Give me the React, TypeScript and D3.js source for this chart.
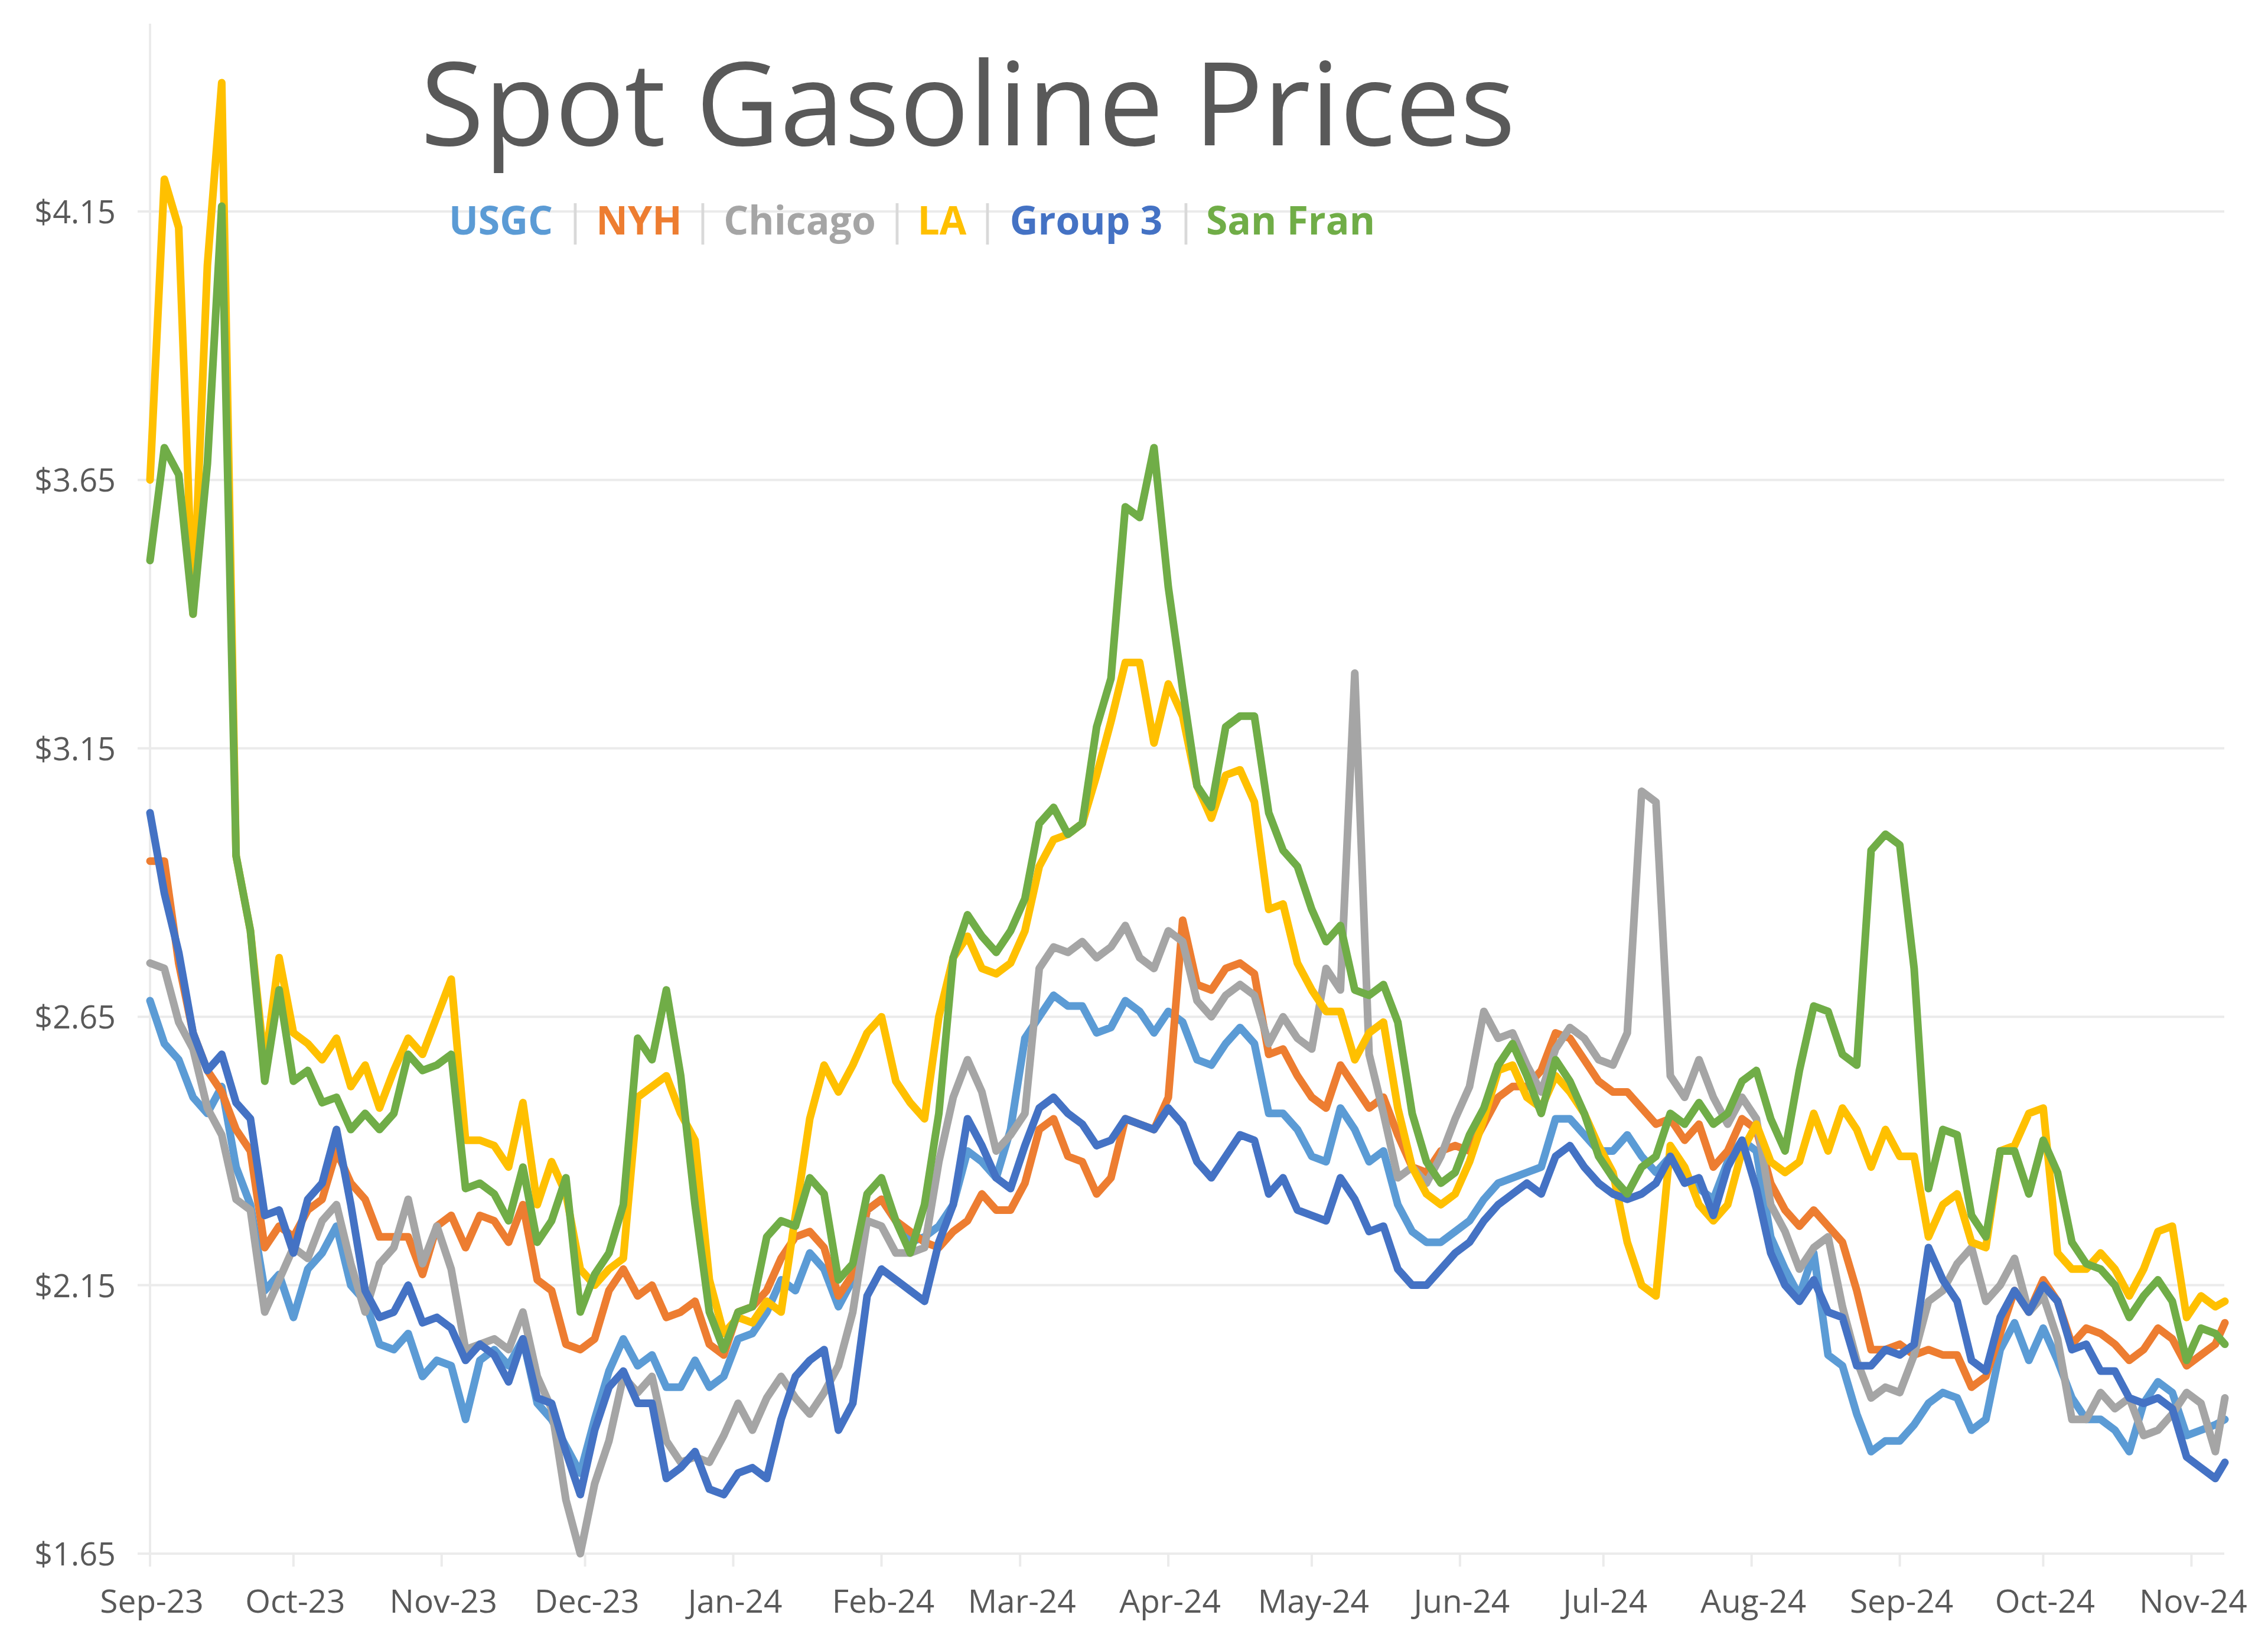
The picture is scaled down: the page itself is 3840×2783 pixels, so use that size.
import React from 'react';
import * as d3 from 'd3';

// Days after 1 Sep 2023 at which the values below were read
const dayOffsets = [
  0, 3, 6, 9, 12, 15, 18, 21, 24, 27,
  30, 33, 36, 39, 42, 45, 48, 51, 54, 57,
  60, 63, 66, 69, 72, 75, 78, 81, 84, 87,
  90, 93, 96, 99, 102, 105, 108, 111, 114, 117,
  120, 123, 126, 129, 132, 135, 138, 141, 144, 147,
  150, 153, 156, 159, 162, 165, 168, 171, 174, 177,
  180, 183, 186, 189, 192, 195, 198, 201, 204, 207,
  210, 213, 216, 219, 222, 225, 228, 231, 234, 237,
  240, 243, 246, 249, 252, 255, 258, 261, 264, 267,
  270, 273, 276, 279, 282, 285, 288, 291, 294, 297,
  300, 303, 306, 309, 312, 315, 318, 321, 324, 327,
  330, 333, 336, 339, 342, 345, 348, 351, 354, 357,
  360, 363, 366, 369, 372, 375, 378, 381, 384, 387,
  390, 393, 396, 399, 402, 405, 408, 411, 414, 417,
  420, 423, 426, 429, 432, 434,
];

const usgc = [
  2.68, 2.60, 2.57, 2.50, 2.47, 2.52, 2.37, 2.30, 2.14, 2.17,
  2.09, 2.18, 2.21, 2.26, 2.15, 2.12, 2.04, 2.03, 2.06, 1.98,
  2.01, 2.00, 1.90, 2.01, 2.03, 2.00, 2.05, 1.93, 1.90, 1.85,
  1.80, 1.90, 1.99, 2.05, 2.00, 2.02, 1.96, 1.96, 2.01, 1.96,
  1.98, 2.05, 2.06, 2.10, 2.16, 2.14, 2.21, 2.18, 2.11, 2.16,
  2.29, 2.31, 2.27, 2.23, 2.24, 2.26, 2.30, 2.40, 2.38, 2.35,
  2.44, 2.61, 2.65, 2.69, 2.67, 2.67, 2.62, 2.63, 2.68, 2.66,
  2.62, 2.66, 2.64, 2.57, 2.56, 2.60, 2.63, 2.60, 2.47, 2.47,
  2.44, 2.39, 2.38, 2.48, 2.44, 2.38, 2.40, 2.30, 2.25, 2.23,
  2.23, 2.25, 2.27, 2.31, 2.34, 2.35, 2.36, 2.37, 2.46, 2.46,
  2.43, 2.40, 2.40, 2.43, 2.39, 2.36, 2.39, 2.35, 2.33, 2.31,
  2.38, 2.42, 2.40, 2.24, 2.18, 2.13, 2.21, 2.02, 2.00, 1.91,
  1.84, 1.86, 1.86, 1.89, 1.93, 1.95, 1.94, 1.88, 1.90, 2.03,
  2.08, 2.01, 2.07, 2.01, 1.94, 1.90, 1.90, 1.88, 1.84, 1.93,
  1.97, 1.95, 1.87, 1.88, 1.89, 1.90,
];

const nyh = [
  2.94, 2.94, 2.75, 2.62, 2.55, 2.51, 2.44, 2.40, 2.22, 2.26,
  2.24, 2.29, 2.31, 2.40, 2.34, 2.31, 2.24, 2.24, 2.24, 2.17,
  2.26, 2.28, 2.22, 2.28, 2.27, 2.23, 2.30, 2.16, 2.14, 2.04,
  2.03, 2.05, 2.14, 2.18, 2.13, 2.15, 2.09, 2.10, 2.12, 2.04,
  2.02, 2.10, 2.11, 2.14, 2.20, 2.24, 2.25, 2.22, 2.13, 2.17,
  2.29, 2.31, 2.27, 2.25, 2.23, 2.22, 2.25, 2.27, 2.32, 2.29,
  2.29, 2.34, 2.44, 2.46, 2.39, 2.38, 2.32, 2.35, 2.46, 2.45,
  2.44, 2.50, 2.83, 2.71, 2.70, 2.74, 2.75, 2.73, 2.58, 2.59,
  2.54, 2.50, 2.48, 2.56, 2.52, 2.48, 2.50, 2.43, 2.37, 2.36,
  2.40, 2.41, 2.40, 2.45, 2.50, 2.52, 2.52, 2.55, 2.62, 2.61,
  2.57, 2.53, 2.51, 2.51, 2.48, 2.45, 2.46, 2.42, 2.45, 2.37,
  2.40, 2.46, 2.44, 2.34, 2.29, 2.26, 2.29, 2.26, 2.23, 2.14,
  2.03, 2.03, 2.04, 2.02, 2.03, 2.02, 2.02, 1.96, 1.98, 2.06,
  2.14, 2.10, 2.16, 2.12, 2.04, 2.07, 2.06, 2.04, 2.01, 2.03,
  2.07, 2.05, 2.00, 2.02, 2.04, 2.08,
];

const chicago = [
  2.75, 2.74, 2.64, 2.59, 2.48, 2.43, 2.31, 2.29, 2.10, 2.16,
  2.22, 2.20, 2.27, 2.30, 2.19, 2.10, 2.19, 2.22, 2.31, 2.19,
  2.26, 2.18, 2.03, 2.04, 2.05, 2.03, 2.10, 1.98, 1.92, 1.75,
  1.65, 1.78, 1.86, 1.98, 1.95, 1.98, 1.86, 1.82, 1.83, 1.82,
  1.87, 1.93, 1.88, 1.94, 1.98, 1.94, 1.91, 1.95, 2.00, 2.10,
  2.27, 2.26, 2.21, 2.21, 2.22, 2.38, 2.50, 2.57, 2.51, 2.40,
  2.43, 2.47, 2.74, 2.78, 2.77, 2.79, 2.76, 2.78, 2.82, 2.76,
  2.74, 2.81, 2.79, 2.68, 2.65, 2.69, 2.71, 2.69, 2.60, 2.65,
  2.61, 2.59, 2.74, 2.70, 3.29, 2.58, 2.47, 2.35, 2.37, 2.34,
  2.39, 2.46, 2.52, 2.66, 2.61, 2.62, 2.56, 2.51, 2.59, 2.63,
  2.61, 2.57, 2.56, 2.62, 3.07, 3.05, 2.54, 2.50, 2.57, 2.50,
  2.45, 2.50, 2.46, 2.30, 2.25, 2.18, 2.22, 2.24, 2.11, 2.01,
  1.94, 1.96, 1.95, 2.02, 2.12, 2.14, 2.19, 2.22, 2.12, 2.15,
  2.20, 2.10, 2.13, 2.05, 1.90, 1.90, 1.95, 1.92, 1.94, 1.87,
  1.88, 1.91, 1.95, 1.93, 1.84, 1.94,
];

const la = [
  3.65, 4.21, 4.12, 3.40, 4.05, 4.39, 2.95, 2.81, 2.56, 2.76,
  2.62, 2.60, 2.57, 2.61, 2.52, 2.56, 2.48, 2.55, 2.61, 2.58,
  2.65, 2.72, 2.42, 2.42, 2.41, 2.37, 2.49, 2.30, 2.38, 2.32,
  2.18, 2.15, 2.18, 2.20, 2.50, 2.52, 2.54, 2.47, 2.42, 2.16,
  2.06, 2.09, 2.08, 2.12, 2.10, 2.28, 2.46, 2.56, 2.51, 2.56,
  2.62, 2.65, 2.53, 2.49, 2.46, 2.65, 2.76, 2.80, 2.74, 2.73,
  2.75, 2.81, 2.93, 2.98, 2.99, 3.01, 3.10, 3.20, 3.31, 3.31,
  3.16, 3.27, 3.21, 3.08, 3.02, 3.10, 3.11, 3.05, 2.85, 2.86,
  2.75, 2.70, 2.66, 2.66, 2.57, 2.62, 2.64, 2.48, 2.37, 2.32,
  2.30, 2.32, 2.38, 2.46, 2.55, 2.56, 2.50, 2.48, 2.54, 2.51,
  2.47, 2.41, 2.36, 2.23, 2.15, 2.13, 2.41, 2.37, 2.30, 2.27,
  2.30, 2.40, 2.45, 2.38, 2.36, 2.38, 2.47, 2.40, 2.48, 2.44,
  2.37, 2.44, 2.39, 2.39, 2.24, 2.30, 2.32, 2.23, 2.22, 2.40,
  2.41, 2.47, 2.48, 2.21, 2.18, 2.18, 2.21, 2.18, 2.13, 2.18,
  2.25, 2.26, 2.09, 2.13, 2.11, 2.12,
];

const group3 = [
  3.03, 2.88, 2.77, 2.62, 2.55, 2.58, 2.49, 2.46, 2.28, 2.29,
  2.21, 2.31, 2.34, 2.44, 2.30, 2.14, 2.09, 2.10, 2.15, 2.08,
  2.09, 2.07, 2.01, 2.04, 2.02, 1.97, 2.05, 1.94, 1.93, 1.84,
  1.76, 1.88, 1.96, 1.99, 1.93, 1.93, 1.79, 1.81, 1.84, 1.77,
  1.76, 1.80, 1.81, 1.79, 1.90, 1.98, 2.01, 2.03, 1.88, 1.93,
  2.13, 2.18, 2.16, 2.14, 2.12, 2.23, 2.30, 2.46, 2.41, 2.35,
  2.33, 2.41, 2.48, 2.50, 2.47, 2.45, 2.41, 2.42, 2.46, 2.45,
  2.44, 2.48, 2.45, 2.38, 2.35, 2.39, 2.43, 2.42, 2.32, 2.35,
  2.29, 2.28, 2.27, 2.35, 2.31, 2.25, 2.26, 2.18, 2.15, 2.15,
  2.18, 2.21, 2.23, 2.27, 2.30, 2.32, 2.34, 2.32, 2.39, 2.41,
  2.37, 2.34, 2.32, 2.31, 2.32, 2.34, 2.39, 2.34, 2.35, 2.28,
  2.37, 2.42, 2.33, 2.21, 2.15, 2.12, 2.16, 2.10, 2.09, 2.00,
  2.00, 2.03, 2.02, 2.04, 2.22, 2.16, 2.12, 2.01, 1.99, 2.09,
  2.14, 2.10, 2.15, 2.12, 2.03, 2.04, 1.99, 1.99, 1.94, 1.93,
  1.94, 1.92, 1.83, 1.81, 1.79, 1.82,
];

const sanFran = [
  3.50, 3.71, 3.66, 3.40, 3.68, 4.16, 2.95, 2.81, 2.53, 2.70,
  2.53, 2.55, 2.49, 2.50, 2.44, 2.47, 2.44, 2.47, 2.58, 2.55,
  2.56, 2.58, 2.33, 2.34, 2.32, 2.27, 2.37, 2.23, 2.27, 2.35,
  2.10, 2.17, 2.21, 2.30, 2.61, 2.57, 2.70, 2.54, 2.30, 2.10,
  2.03, 2.10, 2.11, 2.24, 2.27, 2.26, 2.35, 2.32, 2.16, 2.19,
  2.32, 2.35, 2.27, 2.21, 2.30, 2.47, 2.76, 2.84, 2.80, 2.77,
  2.81, 2.87, 3.01, 3.04, 2.99, 3.01, 3.19, 3.28, 3.60, 3.58,
  3.71, 3.45, 3.26, 3.08, 3.04, 3.19, 3.21, 3.21, 3.03, 2.96,
  2.93, 2.85, 2.79, 2.82, 2.70, 2.69, 2.71, 2.64, 2.47, 2.38,
  2.34, 2.36, 2.43, 2.48, 2.56, 2.60, 2.54, 2.47, 2.57, 2.53,
  2.47, 2.39, 2.35, 2.32, 2.37, 2.39, 2.47, 2.45, 2.49, 2.45,
  2.47, 2.53, 2.55, 2.46, 2.40, 2.55, 2.67, 2.66, 2.58, 2.56,
  2.96, 2.99, 2.97, 2.74, 2.33, 2.44, 2.43, 2.28, 2.24, 2.40,
  2.40, 2.32, 2.42, 2.36, 2.23, 2.19, 2.18, 2.15, 2.09, 2.13,
  2.16, 2.12, 2.01, 2.07, 2.06, 2.04,
];

const seriesNames = ['USGC', 'NYH', 'Chicago', 'LA', 'Group 3', 'San Fran'];
const seriesValues = [usgc, nyh, chicago, la, group3, sanFran];
const seriesColors = ['#5B9BD5', '#ED7D31', '#A5A5A5', '#FFC000', '#4472C4', '#70AD47'];

const yTickValues = [1.65, 2.15, 2.65, 3.15, 3.65, 4.15];
const titleText = 'Spot Gasoline Prices';

// legend label centres (layout)
const legendCenters = [848, 1082, 1354, 1595, 1839, 2185];
const separatorCenters = [974, 1190, 1519, 1672, 2008];

export default function App() {
  const W = 3840;
  const H = 2783;
  const start = new Date(Date.UTC(2023, 8, 1));
  const end = d3.utcDay.offset(start, 434);
  const dates = dayOffsets.map((d) => d3.utcDay.offset(start, d));

  const x = d3.scaleUtc().domain([start, end]).range([254, 3767]);
  const y = d3.scaleLinear().domain([1.65, 4.5]).range([2630, 40]);

  const months = d3.utcMonth.range(start, new Date(Date.UTC(2024, 10, 2)));
  const fmtMonth = d3.utcFormat('%b-%y');
  const fmtY = (v: number) => '$' + d3.format('.2f')(v);

  const line = d3
    .line<number>()
    .x((_, i) => x(dates[i]))
    .y((v) => y(v));

  const gridColor = '#EBEBEB';
  const textColor = '#595959';
  const font = "'Open Sans', 'DejaVu Sans', sans-serif";

  return (
    <div style={{ position: 'absolute', left: 0, top: 0, width: W, height: H, background: '#fff' }}>
      <svg width={W} height={H} viewBox={`0 0 ${W} ${H}`} style={{ display: 'block' }}>
        <rect x={0} y={0} width={W} height={H} fill="#ffffff" />
        {/* horizontal gridlines */}
        {yTickValues.map((v) => (
          <line key={'g' + v} x1={233} x2={3766} y1={y(v)} y2={y(v)} stroke={gridColor} strokeWidth={4} />
        ))}
        {/* y axis line */}
        <line x1={x(start)} x2={x(start)} y1={y(4.5)} y2={2652} stroke={gridColor} strokeWidth={4} />
        {/* month ticks */}
        {months.map((m) => (
          <line key={'t' + m.getTime()} x1={x(m)} x2={x(m)} y1={y(1.65)} y2={2652} stroke={gridColor} strokeWidth={4} />
        ))}
        {/* y labels */}
        {yTickValues.map((v) => (
          <text key={'yl' + v} x={196} y={y(v) + 20} textAnchor="end" fontFamily={font} fontSize={54} fill={textColor}>
            {fmtY(v)}
          </text>
        ))}
        {/* x labels */}
        {months.map((m) => (
          <text key={'xl' + m.getTime()} x={x(m) + 3} y={2730} textAnchor="middle" fontFamily={font} fontSize={55} fill={textColor}>
            {fmtMonth(m)}
          </text>
        ))}
        {/* series */}
        {seriesValues.map((vals, si) => (
          <path
            key={seriesNames[si]}
            d={line(vals) || ''}
            fill="none"
            stroke={seriesColors[si]}
            strokeWidth={13}
            strokeLinejoin="round"
            strokeLinecap="round"
          />
        ))}
        {/* title */}
        <text x={712} y={246} fontFamily={font} fontSize={196} fill={textColor}>
          {titleText}
        </text>
        {/* legend */}
        {seriesNames.map((n, i) => (
          <text key={'lg' + n} x={legendCenters[i]} y={397} textAnchor="middle" fontFamily={font} fontWeight={700} fontSize={66} fill={seriesColors[i]}>
            {n}
          </text>
        ))}
        {separatorCenters.map((c) => (
          <text key={'sep' + c} x={c} y={397} textAnchor="middle" fontFamily={font} fontSize={70} fill="#D9D9D9">
            |
          </text>
        ))}
      </svg>
    </div>
  );
}
